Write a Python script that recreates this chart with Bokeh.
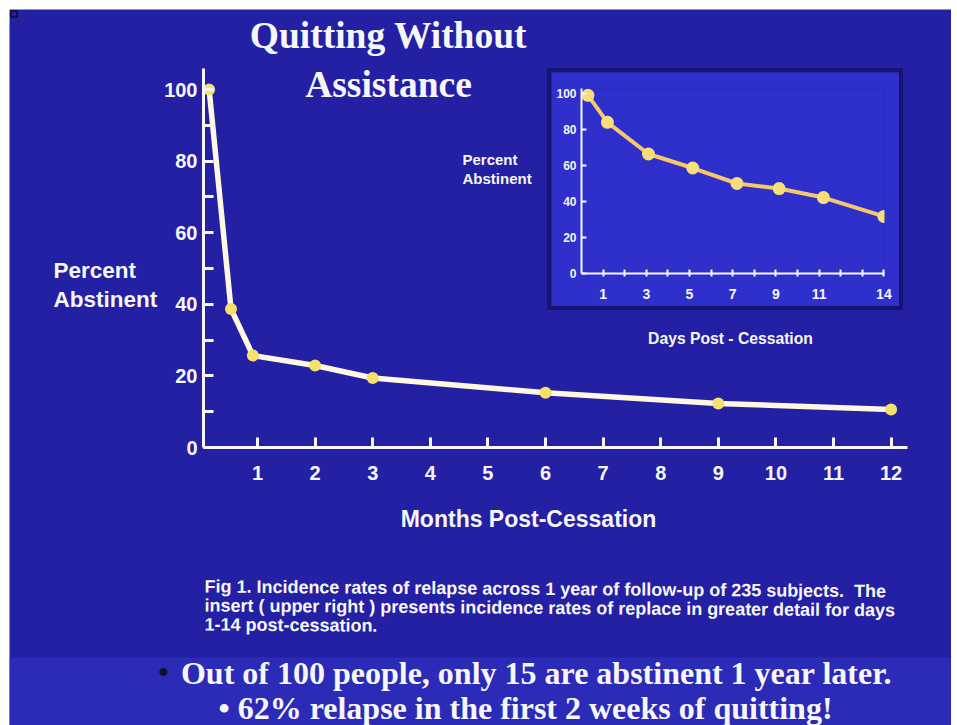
from bokeh.plotting import figure
from bokeh.models import Range1d, Label, FixedTicker
from bokeh.embed import file_html
from bokeh.resources import INLINE

# ---------------- data ----------------
months = [0.16, 0.54, 0.92, 2, 3, 6, 9, 12]
pct_abstinent_months = [100, 38.7, 25.7, 22.9, 19.4, 15.3, 12.3, 10.6]
month_ticks = [1, 2, 3, 4, 5, 6, 7, 8, 9, 10, 11, 12]
pct_ticks = [0, 20, 40, 60, 80, 100]
pct_minor_ticks = [10, 30, 50, 70, 90]

days = [0.3, 1.2, 3.1, 5.15, 7.2, 9.15, 11.2, 14.0]
pct_abstinent_days = [99, 84, 66.4, 58.6, 50, 47.2, 42.2, 31.7]
day_ticks = [1, 2, 3, 4, 5, 6, 7, 8, 9, 10, 11, 12, 13, 14]
day_labels = {1: "1", 3: "3", 5: "5", 7: "7", 9: "9", 11: "11", 14: "14"}

title_lines = ["Quitting Without", "Assistance"]
y_title_lines = ["Percent", "Abstinent"]
x_title = "Months Post-Cessation"
inset_x_title = "Days Post - Cessation"
caption_lines = [
    "Fig 1. Incidence rates of relapse across 1 year of follow-up of 235 subjects.\u00a0 The",
    "insert ( upper right ) presents incidence rates of replace in greater detail for days",
    "1-14 post-cessation.",
]
bullet_lines = [
    "Out of 100 people, only 15 are abstinent 1 year later.",
    "\u2022 62% relapse in the first 2 weeks of quitting!",
]

# ---------------- style ----------------
BG = "#2420a4"
BAND = "#2c2bb8"
INSET_BG = "#2f30cc"
INSET_EDGE = "#16166e"
WHITE = "#f6f6f6"
SANS = "Liberation Sans"
SERIF = "Liberation Serif"

OX, OY = 9, 9            # slide offset in page
SW, SH = 942, 716        # slide size
BAND_TOP = 657           # page y where the lighter bottom band starts


def place(fig, left, top, z):
    fig.styles = {"position": "absolute", "left": f"{left}px", "top": f"{top}px", "z-index": str(z)}


# ---------------- slide background + texts ----------------
bg = figure(width=SW, height=SH, output_backend="svg", toolbar_location=None,
            x_range=Range1d(0, SW), y_range=Range1d(SH, 0),
            x_axis_type=None, y_axis_type=None, min_border=0,
            background_fill_color=BG, border_fill_color=BG, outline_line_color=None)
bg.grid.visible = False
bg.quad(left=0, right=SW, top=BAND_TOP - OY, bottom=SH, fill_color=BAND, line_color=None)
bg.quad(left=1.5, right=7.5, top=1.5, bottom=7.5, fill_color=BG, line_color="#0c0c20", line_width=1.5)
place(bg, OX, OY, 1)


def lab(x, y, text, size, font=SANS, align="left", color=WHITE, angle=0):
    # y is the vertical middle of the text line, in page pixels
    bg.add_layout(Label(x=x - OX, y=y - OY, text=text, text_font=font, text_font_style="bold",
                        text_font_size=size, text_color=color, text_align=align,
                        text_baseline="middle", angle=angle))


# title
lab(388, 35, title_lines[0], "37.5px", SERIF, "center")
lab(388, 84, title_lines[1], "37.5px", SERIF, "center")
# y title
lab(53, 270, y_title_lines[0], "22.5px")
lab(53, 299, y_title_lines[1], "22.5px")
# x title
lab(528, 518, x_title, "23px", align="center")
# inset titles
lab(462, 159, y_title_lines[0], "15px")
lab(462, 178, y_title_lines[1], "15px")
lab(730, 338, inset_x_title, "15.7px", align="center")
# caption
for i, t in enumerate(caption_lines):
    lab(204, 586 + 19 * i, t, "18px", angle=-0.007)
# bottom band
lab(163, 671, "\u2022", "30px", SERIF, "center", color="#101028")
lab(536, 672, bullet_lines[0], "32px", SERIF, "center")
lab(525, 707, bullet_lines[1], "32px", SERIF, "center")

# ---------------- main chart ----------------
F_L, F_R, F_T, F_B = 203, 907, 68, 447   # frame in page pixels
M0 = 199.4       # page x of month 0
M_PX = 57.6      # px per month
Y_PX = 3.58      # px per percent
W_MAIN, H_MAIN = SW, BAND_TOP - OY

p = figure(width=W_MAIN, height=H_MAIN, output_backend="svg", toolbar_location=None,
           x_range=Range1d((F_L - M0) / M_PX, (F_R - M0) / M_PX),
           y_range=Range1d(0, (F_B - F_T) / Y_PX),
           min_border_left=F_L - OX, min_border_right=W_MAIN - (F_R - OX),
           min_border_top=F_T - OY, min_border_bottom=H_MAIN - (F_B - OY),
           background_fill_color=None, border_fill_color=None, outline_line_color=None)
p.grid.visible = False

for ax in (p.xaxis[0], p.yaxis[0]):
    ax.axis_line_color = WHITE
    ax.axis_line_width = 3
    ax.major_tick_line_color = WHITE
    ax.major_tick_line_width = 3
    ax.minor_tick_line_color = WHITE
    ax.minor_tick_line_width = 3
    ax.major_tick_out = 0
    ax.minor_tick_out = 0
    ax.major_label_text_color = WHITE
    ax.major_label_text_font = SANS
    ax.major_label_text_font_style = "bold"
    ax.major_label_text_font_size = "20px"

p.xaxis.ticker = FixedTicker(ticks=month_ticks)
p.xaxis.major_tick_in = 10
p.xaxis.major_label_standoff = 18
p.yaxis.ticker = FixedTicker(ticks=pct_ticks, minor_ticks=pct_minor_ticks)
p.yaxis.major_tick_in = 10
p.yaxis.minor_tick_in = 10
p.yaxis.major_label_standoff = 6

p.line(months, pct_abstinent_months, line_color="#fdf8e2", line_width=5.5, line_join="round")
p.scatter(months, pct_abstinent_months, size=12, fill_color="#f4e06a", line_color=None)
place(p, OX, OY, 2)

# ---------------- inset ----------------
IW, IH = 348, 234
I_L, I_T = 551, 72                      # page position of inset canvas
IF_L, IF_R, IF_T, IF_B = 581, 884, 88, 273
D_PX = 21.6
P_PX = 1.8

inset = figure(width=IW, height=IH, output_backend="svg", toolbar_location=None,
               x_range=Range1d(0, (IF_R - IF_L) / D_PX), y_range=Range1d(0, (IF_B - IF_T) / P_PX),
               min_border_left=IF_L - I_L, min_border_right=IW - (IF_R - I_L),
               min_border_top=IF_T - I_T, min_border_bottom=IH - (IF_B - I_T),
               background_fill_color=INSET_BG, border_fill_color=INSET_BG, outline_line_color=None)
inset.grid.visible = False
for ax in (inset.xaxis[0], inset.yaxis[0]):
    ax.axis_line_color = WHITE
    ax.axis_line_width = 2
    ax.major_tick_line_color = WHITE
    ax.major_tick_line_width = 2
    ax.minor_tick_line_color = None
    ax.major_label_text_color = WHITE
    ax.major_label_text_font = SANS
    ax.major_label_text_font_style = "bold"
inset.xaxis.ticker = FixedTicker(ticks=day_ticks)
inset.xaxis.major_label_overrides = {d: day_labels.get(d, "") for d in day_ticks}
inset.xaxis.major_tick_in = 4
inset.xaxis.major_tick_out = 3
inset.xaxis.major_label_standoff = 12
inset.xaxis.major_label_text_font_size = "14px"
inset.yaxis.ticker = FixedTicker(ticks=pct_ticks)
inset.yaxis.major_tick_in = 5
inset.yaxis.major_tick_out = 0
inset.yaxis.major_label_standoff = 5
inset.yaxis.major_label_text_font_size = "12px"

inset.line(days, pct_abstinent_days, line_color="#f6c86c", line_width=4, line_join="round")
inset.scatter(days, pct_abstinent_days, size=13, fill_color="#f8de78", line_color=None)
inset.styles = {"position": "absolute", "left": f"{I_L}px", "top": f"{I_T}px",
                "outline": f"4px solid {INSET_EDGE}", "z-index": "3"}

open("out.html", "w").write(file_html([bg, p, inset], INLINE))
